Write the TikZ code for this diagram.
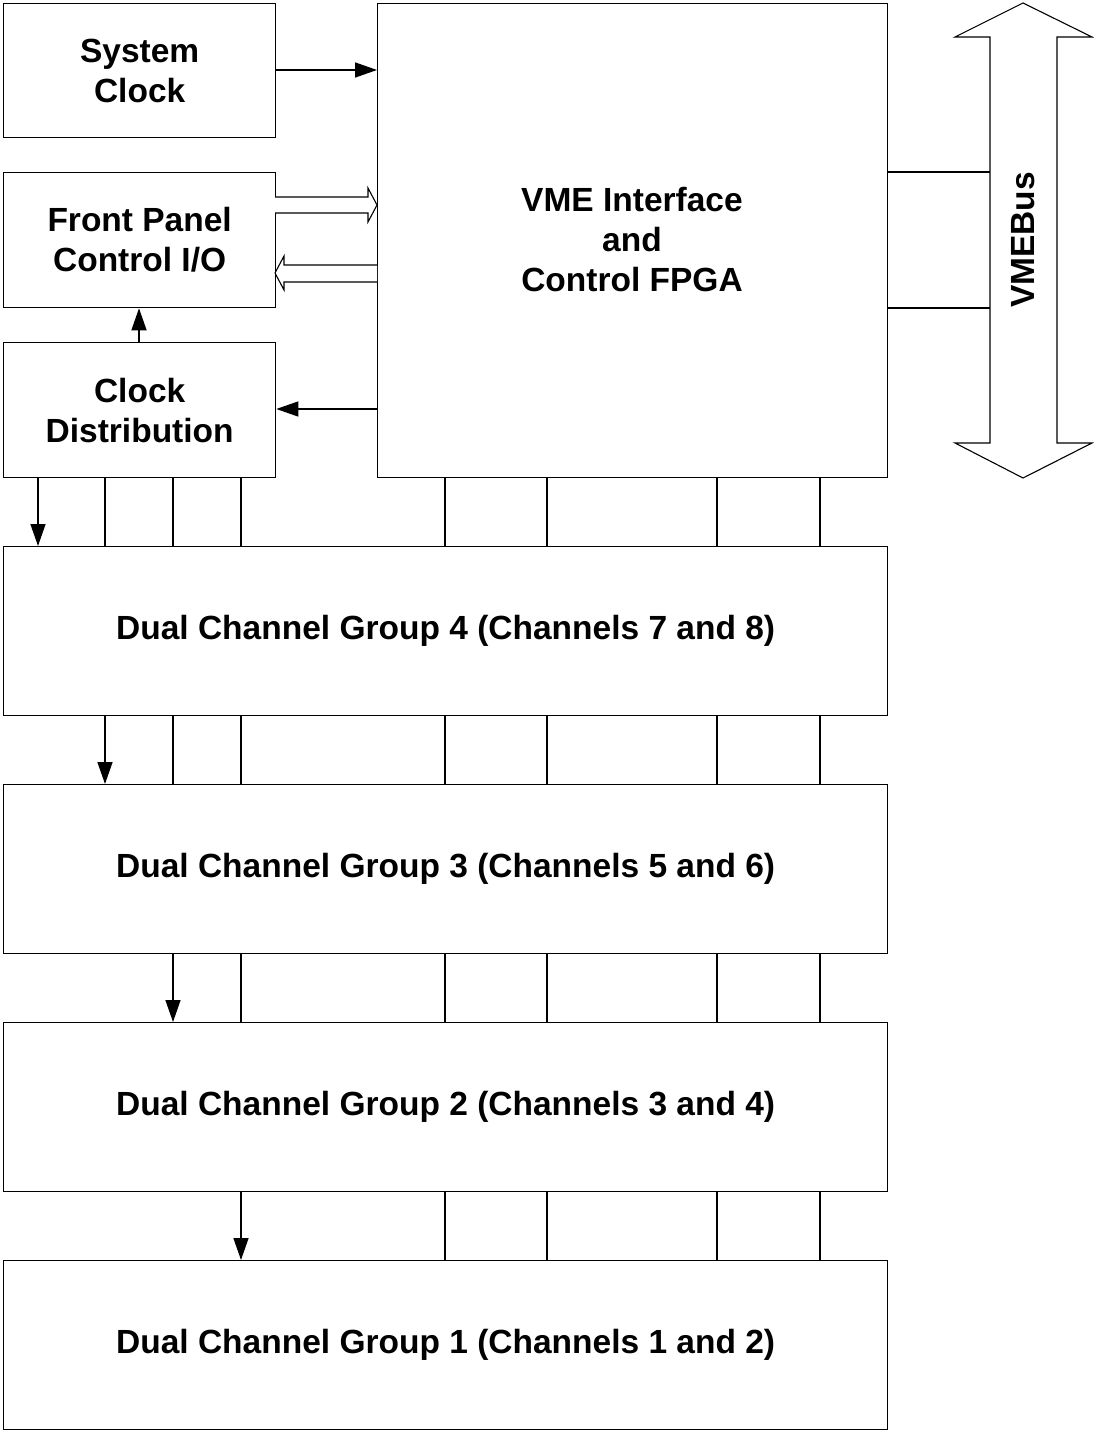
\documentclass[tikz,border=0pt]{standalone}
\usepackage{fontspec}
\setmainfont{Liberation Sans}
\usetikzlibrary{arrows.meta}
\begin{document}
\begin{tikzpicture}[x=1pt,y=-1pt,
  box/.style={draw,line width=1.3pt,inner sep=0pt,anchor=north west},
  lbl/.style={font=\bfseries\fontsize{33.5}{40}\selectfont,align=center},
  conn/.style={line width=1.4pt},
  arr/.style={conn,-{Triangle[length=22pt,width=15pt]}}]
\useasboundingbox (0,0) rectangle (1093,1431);
% boxes
\node[box,minimum width=272pt,minimum height=134pt] (sc) at (3,3) {};
\node[lbl] at (sc.center) {System\\Clock};
\node[box,minimum width=272pt,minimum height=135pt] (fp) at (3,172) {};
\node[lbl] at (fp.center) {Front Panel\\Control I/O};
\node[box,minimum width=272pt,minimum height=135pt] (cd) at (3,342) {};
\node[lbl] at (cd.center) {Clock\\Distribution};
\node[box,minimum width=510pt,minimum height=474pt] (fpga) at (377,3) {};
\node[lbl] at (632,240) {VME Interface\\and\\Control FPGA};
\foreach \n/\y/\k in {g4/546/4 (Channels 7 and 8),g3/784/3 (Channels 5 and 6),g2/1022/2 (Channels 3 and 4),g1/1260/1 (Channels 1 and 2)}{
  \node[box,minimum width=884pt,minimum height=169pt] (\n) at (3,\y) {};
  \node[lbl] at (\n.center) {Dual Channel Group \k};
}
% VMEBus double arrow
\draw[line width=1.1pt] (1023,3) -- (1092,37) -- (1057,37) -- (1057,443) -- (1092,443)
  -- (1023,478) -- (955,443) -- (990,443) -- (990,37) -- (955,37) -- cycle;
\node[lbl,rotate=90] (vme) at (1023,240) {VMEBus};
\coordinate (b1) at (990,172);
\coordinate (b2) at (990,308);
\draw[conn] (fpga.east |- b1) -- (b1);
\draw[conn] (fpga.east |- b2) -- (b2);
% arrows
\draw[arr] (sc.east |- 0,70) -- (fpga.west |- 0,70);
\draw[arr] (fpga.west |- 0,409) -- (cd.east |- 0,409);
\draw[arr] (cd.north -| 139,0) -- (fp.south -| 139,0);
% hollow arrows
\draw[line width=1.1pt,fill=white] (275,197) -- (368,197) -- (368,188) -- (377,205) -- (368,222) -- (368,213) -- (275,213);
\draw[line width=1.1pt,fill=white] (377,265) -- (284,265) -- (284,256) -- (275,273) -- (284,290) -- (284,282) -- (377,282);
% vertical connectors
\draw[arr] (cd.south -| 38,0) -- (g4.north -| 38,0);
\foreach \x in {105,173,241} \draw[conn] (cd.south -| \x,0) -- (g4.north -| \x,0);
\foreach \x in {445,547,717,820} \draw[conn] (fpga.south -| \x,0) -- (g4.north -| \x,0);
\draw[arr] (g4.south -| 105,0) -- (g3.north -| 105,0);
\foreach \x in {173,241,445,547,717,820} \draw[conn] (g4.south -| \x,0) -- (g3.north -| \x,0);
\draw[arr] (g3.south -| 173,0) -- (g2.north -| 173,0);
\foreach \x in {241,445,547,717,820} \draw[conn] (g3.south -| \x,0) -- (g2.north -| \x,0);
\draw[arr] (g2.south -| 241,0) -- (g1.north -| 241,0);
\foreach \x in {445,547,717,820} \draw[conn] (g2.south -| \x,0) -- (g1.north -| \x,0);
\end{tikzpicture}
\end{document}
